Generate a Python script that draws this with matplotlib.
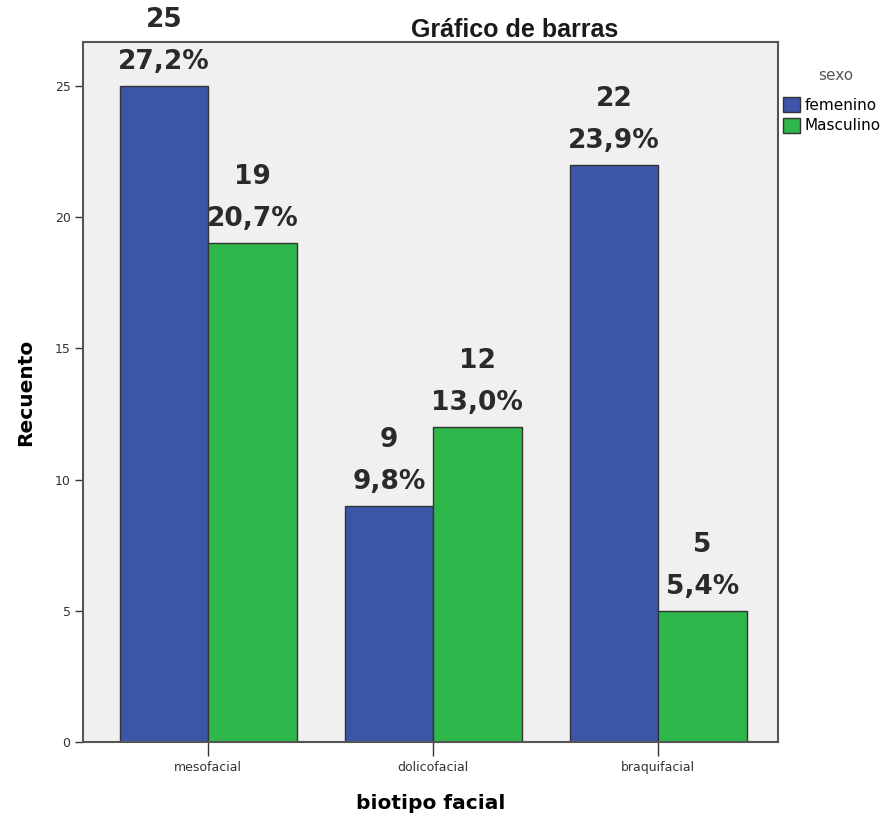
import matplotlib.pyplot as plt
import numpy as np
from matplotlib.patches import Patch

plt.rcParams["font.family"] = "DejaVu Sans"

# Data
categories = ["mesofacial", "dolicofacial", "braquifacial"]
femenino = [25, 9, 22]
masculino = [19, 12, 5]
pct_femenino = [27.2, 9.8, 23.9]
pct_masculino = [20.7, 13.0, 5.4]

blue = "#3d55a8"
green = "#2eb84b"

fig = plt.figure(figsize=(8.91, 8.18), dpi=100)
ax = fig.add_axes([0.0932, 0.0929, 0.780, 0.8558])
ax.set_facecolor("#f0f0f0")

x = np.arange(len(categories))
w = 0.393
bars_f = ax.bar(x - w / 2, femenino, w, color=blue, edgecolor="#333333", linewidth=1, zorder=2)
bars_m = ax.bar(x + w / 2, masculino, w, color=green, edgecolor="#333333", linewidth=1, zorder=2)

# Count and percentage labels above each bar
for bars, counts, pcts in [(bars_f, femenino, pct_femenino), (bars_m, masculino, pct_masculino)]:
    for b, c, p in zip(bars, counts, pcts):
        label = f"{c}\n{p:.1f}%".replace(".", ",")
        ax.annotate(label, (b.get_x() + b.get_width() / 2, b.get_height()),
                    xytext=(0, 8), textcoords="offset points",
                    ha="center", va="bottom", fontsize=19, fontweight="bold",
                    color="#2a2a2a", linespacing=1.8, clip_on=False, zorder=3)

ax.set_xlim(-0.556, 2.533)
ax.set_ylim(0, 26.68)
ax.set_yticks([0, 5, 10, 15, 20, 25])
ax.set_xticks(x)
ax.set_xticklabels(categories)
ax.tick_params(axis="y", direction="out", length=6, width=1, labelsize=9, colors="#333333", pad=3)
ax.tick_params(axis="x", direction="out", length=10, width=1, labelsize=9, colors="#333333", pad=4)

for s in ax.spines.values():
    s.set_color("#555555")
    s.set_linewidth(1.5)

ax.set_ylabel("Recuento", fontsize=14.5, fontweight="bold", labelpad=14)
ax.set_xlabel("biotipo facial", fontsize=14.5, fontweight="bold", labelpad=14)

fig.text(0.578, 0.963, "Gráfico de barras", ha="center", va="center",
         fontsize=18, fontweight="bold", family="Liberation Sans", color="#1a1a1a")

# Legend
fig.text(0.938, 0.908, "sexo", ha="center", va="center", fontsize=11, color="#555555")
handles = [Patch(facecolor=blue, edgecolor="#333333", label="femenino"),
           Patch(facecolor=green, edgecolor="#333333", label="Masculino")]
leg = fig.legend(handles=handles, loc="upper left",
                 bbox_to_anchor=(0.879, 0.881), frameon=False, fontsize=11,
                 handlelength=1.1, handleheight=1.1,
                 handletextpad=0.3, labelspacing=0.33, borderaxespad=0,
                 borderpad=0)

fig.savefig("out.png", dpi=100)
